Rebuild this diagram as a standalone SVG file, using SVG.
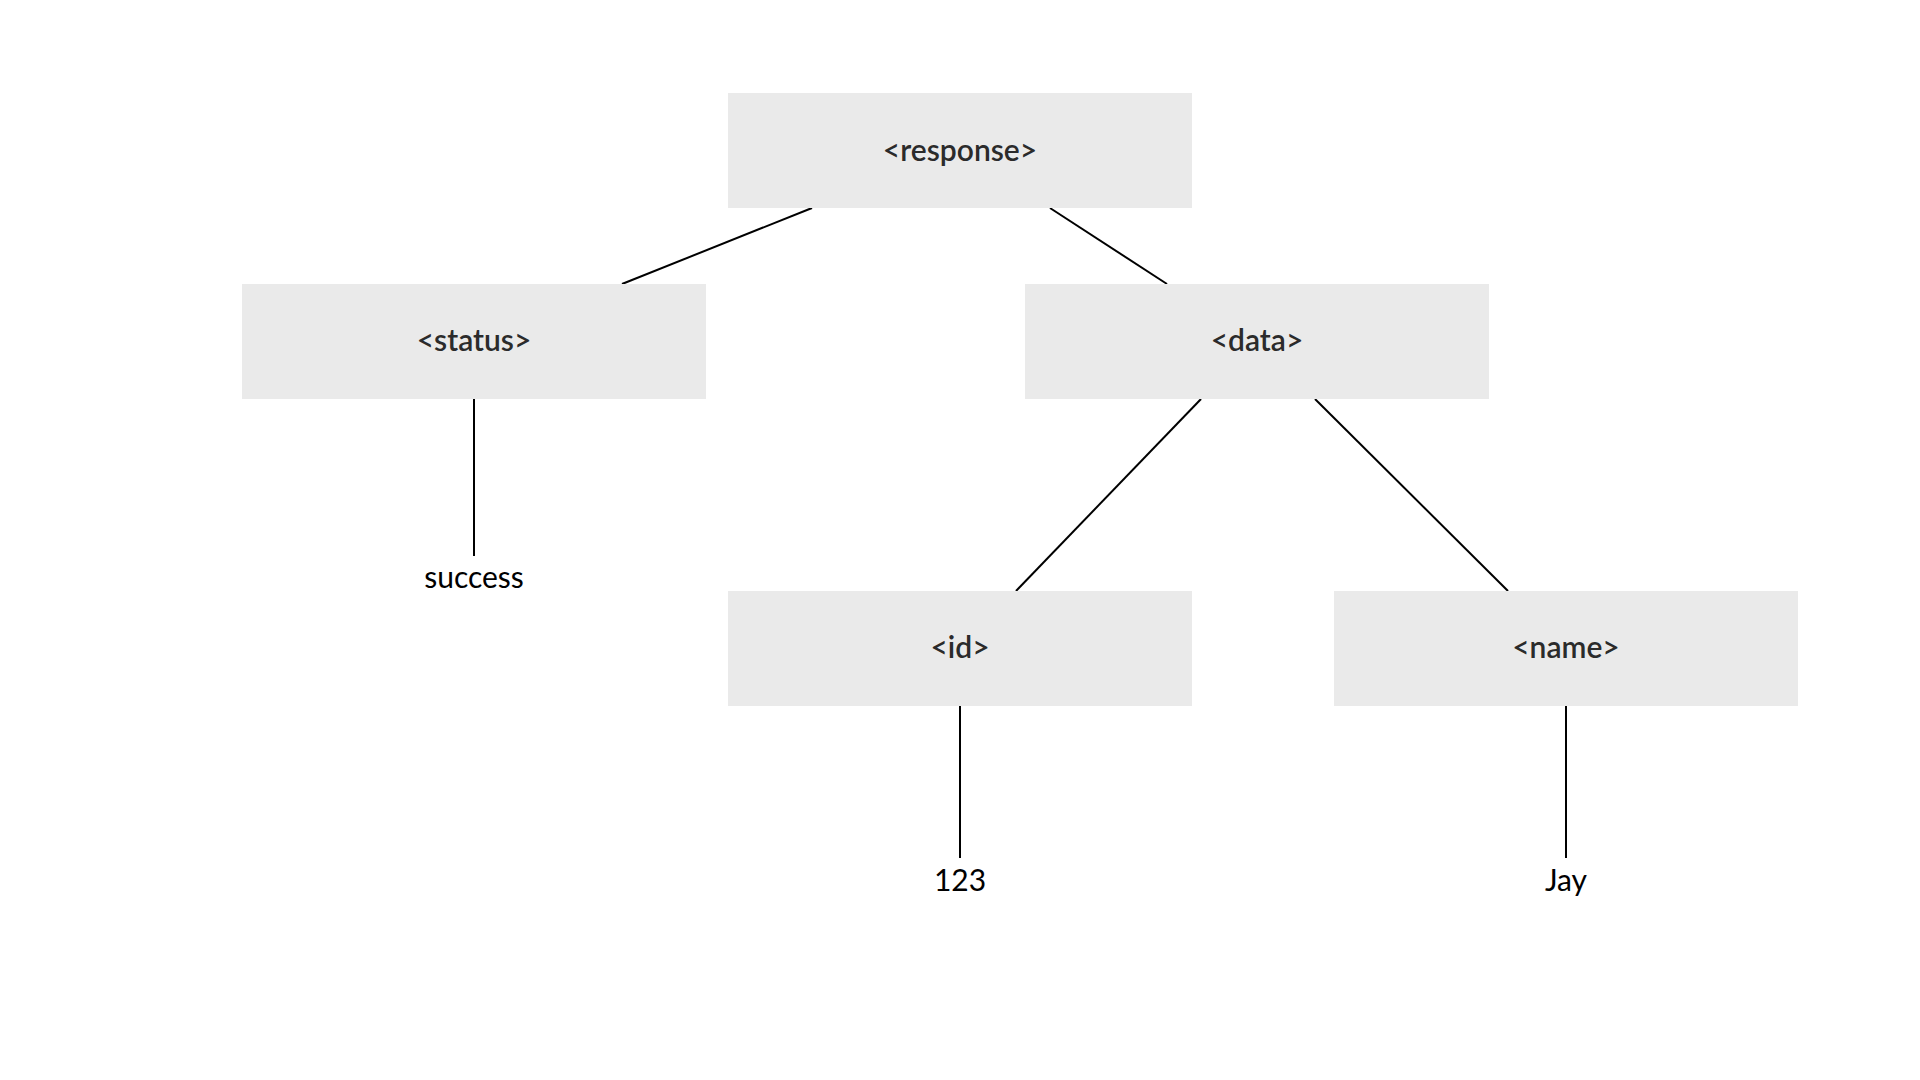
<svg xmlns="http://www.w3.org/2000/svg" width="1920" height="1080" viewBox="0 0 1920 1080">
<style>
.box{fill:#eaeaea}
.tag{font-family:Lato,"Noto Sans","DejaVu Sans",sans-serif;font-size:30px;font-weight:600;fill:#2b2b2b;text-anchor:middle}
.val{font-family:Lato,"Noto Sans","DejaVu Sans",sans-serif;font-size:30px;fill:#000;text-anchor:middle}
.edge{stroke:#000;stroke-width:2;fill:none}
</style>
<rect width="1920" height="1080" fill="#fff"/>
<g id="connectors">
<line class="edge" x1="812" y1="208" x2="622" y2="284"/>
<line class="edge" x1="1050" y1="208" x2="1167" y2="284"/>
<line class="edge" x1="474" y1="399" x2="474" y2="556"/>
<line class="edge" x1="1201" y1="399" x2="1016" y2="591"/>
<line class="edge" x1="1315" y1="399" x2="1508" y2="591"/>
<line class="edge" x1="960" y1="706" x2="960" y2="858"/>
<line class="edge" x1="1566" y1="706" x2="1566" y2="858"/>
</g>
<g id="node-response"><rect class="box" x="728" y="93" width="464" height="115"/><text class="tag" x="960" y="161">&lt;response&gt;</text></g>
<g id="node-status"><rect class="box" x="242" y="284" width="464" height="115"/><text class="tag" x="474" y="351">&lt;status&gt;</text></g>
<g id="node-data"><rect class="box" x="1025" y="284" width="464" height="115"/><text class="tag" x="1257" y="351">&lt;data&gt;</text></g>
<g id="node-id"><rect class="box" x="728" y="591" width="464" height="115"/><text class="tag" x="960" y="658">&lt;id&gt;</text></g>
<g id="node-name"><rect class="box" x="1334" y="591" width="464" height="115"/><text class="tag" x="1566" y="658">&lt;name&gt;</text></g>
<g id="value-success"><text class="val" x="474" y="588">success</text></g>
<g id="value-123"><text class="val" x="960" y="891">123</text></g>
<g id="value-jay"><text class="val" x="1566" y="891">Jay</text></g>
</svg>
